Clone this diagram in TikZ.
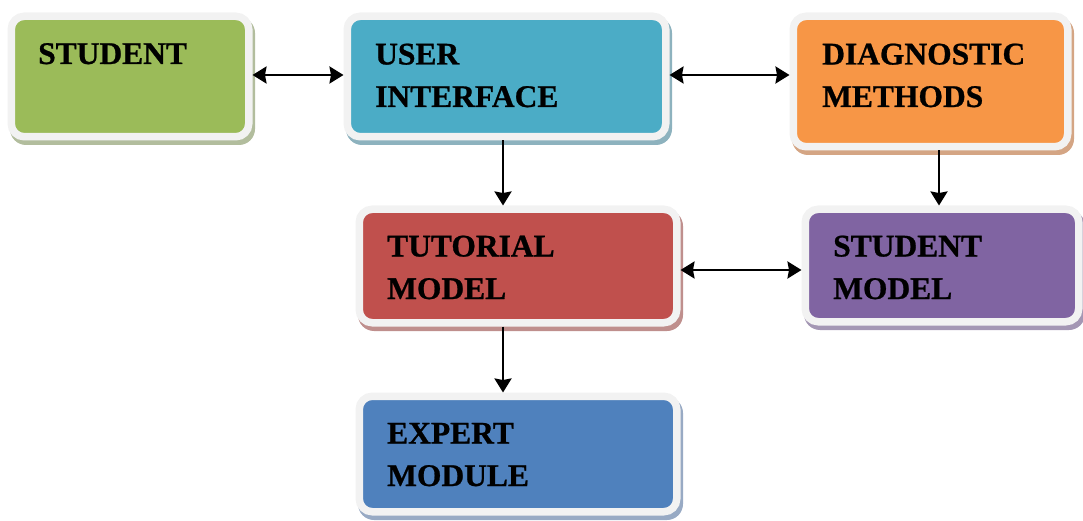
\documentclass[tikz,border=0pt]{standalone}
\usepackage{fontspec}
\setmainfont{Liberation Serif}[BoldFeatures={FakeBold=0.8}]
\usetikzlibrary{arrows.meta,calc,backgrounds}

\definecolor{rim}{HTML}{F2F2F2}
\definecolor{cgreen}{HTML}{9BBB59}\definecolor{sgreen}{HTML}{B2BD9D}
\definecolor{cteal}{HTML}{4BACC6}\definecolor{steal}{HTML}{8DB2BE}
\definecolor{corange}{HTML}{F79646}\definecolor{sorange}{HTML}{D4A584}
\definecolor{cred}{HTML}{C0504D}\definecolor{sred}{HTML}{BF8F8D}
\definecolor{cpurple}{HTML}{8064A2}\definecolor{spurple}{HTML}{A497B4}
\definecolor{cblue}{HTML}{4F81BD}\definecolor{sblue}{HTML}{98AAC4}

\tikzset{
  box/.style={rounded corners=13pt, draw=rim, line width=7.5pt, inner sep=0pt},
  % anchored at the baseline of the last line
  lbl/.style={anchor=base west, align=left, inner sep=0pt,
              font=\fontsize{31.5}{42.5}\selectfont\bfseries},
  tip/.tip={Stealth[length=14pt,width=17pt,inset=1.5pt]},
  link/.style={line width=2.4pt, tip-tip},
  flow/.style={line width=2.4pt, -tip},
}

% shadow plate under a box: #1 node name, #2 colour
\newcommand\plate[2]{%
  \fill[#2, rounded corners=16pt]
    ($(#1.south west)+(2.5,4.5)$) rectangle ($(#1.north east)+(2.5,4.5)$);}

\begin{document}
\begin{tikzpicture}[x=1pt, y=-1pt]
\useasboundingbox (0,0) rectangle (1083,521);

% the six boxes
\node[box, fill=cgreen,  minimum width=237.5pt, minimum height=120.5pt] (student) at (130,76.5) {};
\node[box, fill=cteal,   minimum width=318.5pt, minimum height=120.5pt] (ui)      at (506.5,76.5) {};
\node[box, fill=corange, minimum width=274.5pt, minimum height=130.5pt] (diag)    at (930.5,81.5) {};
\node[box, fill=cred,    minimum width=317.5pt, minimum height=113.5pt] (tut)     at (518,266) {};
\node[box, fill=cpurple, minimum width=273.5pt, minimum height=112.5pt] (sm)      at (942,265.5) {};
\node[box, fill=cblue,   minimum width=317.5pt, minimum height=115.5pt] (exp)     at (518,454) {};

\begin{scope}[on background layer]
  \plate{student}{sgreen}
  \plate{ui}{steal}
  \plate{diag}{sorange}
  \plate{tut}{sred}
  \plate{sm}{spurple}
  \plate{exp}{sblue}
\end{scope}

% labels
\node[lbl] (studentT) at (38,64)  {STUDENT};
\node[lbl] (uiT)      at (375,107) {USER\\INTERFACE};
\node[lbl] (diagT)    at (822,107) {DIAGNOSTIC\\METHODS};
\node[lbl] (tutT)     at (387,299) {TUTORIAL\\MODEL};
\node[lbl] (smT)      at (833,299) {STUDENT\\MODEL};
\node[lbl] (expT)     at (387,486) {EXPERT\\MODULE};

% connectors
\coordinate (rowA) at (0,75);
\coordinate (rowB) at (0,270);
\coordinate (colA) at (503,0);
\coordinate (colB) at (939,0);

\draw[link] (student.east |- rowA) -- (ui.west |- rowA);
\draw[link] (ui.east |- rowA) -- (diag.west |- rowA);
\draw[flow] (ui.south -| colA) -- (tut.north -| colA);
\draw[flow] (diag.south -| colB) -- (sm.north -| colB);
\draw[link] (tut.east |- rowB) -- (sm.west |- rowB);
\draw[flow] (tut.south -| colA) -- (exp.north -| colA);
\end{tikzpicture}
\end{document}
